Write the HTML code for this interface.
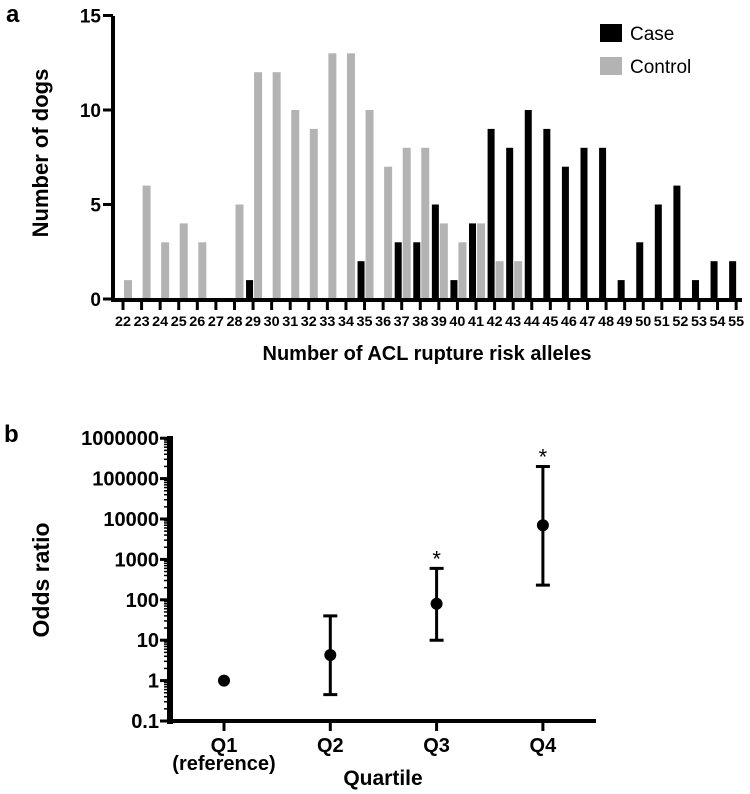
<!DOCTYPE html>
<html><head><meta charset="utf-8"><style>
html,body{margin:0;padding:0;background:#fff;width:750px;height:794px;overflow:hidden}
svg{display:block;font-family:"Liberation Sans",Arial,sans-serif;font-weight:bold}
</style></head><body>
<svg id="c" width="750" height="794"></svg>
<script>
const categories=[22,23,24,25,26,27,28,29,30,31,32,33,34,35,36,37,38,39,40,41,42,43,44,45,46,47,48,49,50,51,52,53,54,55];
const caseCounts=[0,0,0,0,0,0,0,1,0,0,0,0,0,2,0,3,3,5,1,4,9,8,10,9,7,8,8,1,3,5,6,1,2,2];
const controlCounts=[1,6,3,4,3,0,5,12,12,10,9,13,13,10,7,8,8,4,3,4,2,2,0,0,0,0,0,0,0,0,0,0,0,0];
const yTicks=[0,5,10,15];
const quartiles=["Q1","Q2","Q3","Q4"];
const orValues=[1,4.3,80,7000];
const orLow=[null,0.45,10,230];
const orHigh=[null,40,600,200000];
const sig=[false,false,true,true];
const logTicks=[0.1,1,10,100,1000,10000,100000,1000000];
const logLabels=["0.1","1","10","100","1000","10000","100000","1000000"];

const S=document.getElementById('c');const NS='http://www.w3.org/2000/svg';
function mk(t,a,txt){const e=document.createElementNS(NS,t);for(const k in a)e.setAttribute(k,a[k]);if(txt!==undefined)e.textContent=txt;S.appendChild(e);return e;}
const xA=i=>123+i*18.58, yA=v=>299-v*18.9;
let e;
e=mk('text',{x:6,y:22,'font-size':24},'a');
categories.forEach((c,i)=>{
 if(caseCounts[i]>0){e=mk('rect',{x:xA(i)-7,y:yA(caseCounts[i]),width:7,height:yA(0)-yA(caseCounts[i]),fill:'#000'});
 }
 if(controlCounts[i]>0){e=mk('rect',{x:xA(i)+1,y:yA(controlCounts[i]),width:8,height:yA(0)-yA(controlCounts[i]),fill:'#b3b3b3'});
 }
 e=mk('line',{x1:xA(i),x2:xA(i),y1:299,y2:310,stroke:'#000','stroke-width':3});
 e=mk('text',{x:xA(i),y:326,'font-size':14,'text-anchor':'middle',textLength:16,lengthAdjust:'spacingAndGlyphs'},c);
});
e=mk('line',{x1:113,x2:742,y1:300,y2:300,stroke:'#000','stroke-width':4});
e=mk('line',{x1:113,x2:113,y1:16,y2:302,stroke:'#000','stroke-width':4});
yTicks.forEach(v=>{e=mk('line',{x1:103,x2:113,y1:yA(v),y2:yA(v),stroke:'#000','stroke-width':3});
 e=mk('text',{x:101,y:yA(v)+7,'font-size':19,'text-anchor':'end'},v);});
e=mk('text',{x:427,y:360,'font-size':20,'text-anchor':'middle'},'Number of ACL rupture risk alleles');
e=mk('text',{x:0,y:0,'font-size':22,'text-anchor':'middle',transform:'translate(48,153) rotate(-90)'},'Number of dogs');
e=mk('rect',{x:600,y:24,width:22,height:18,fill:'#000'});
e=mk('text',{x:630,y:40,'font-size':19,'font-weight':'normal'},'Case');
e=mk('rect',{x:600,y:57,width:22,height:18,fill:'#b3b3b3'});
e=mk('text',{x:630,y:73,'font-size':19,'font-weight':'normal'},'Control');
const xB=i=>224+i*106.3, yB=v=>721-(Math.log10(v)+1)*40.4;
e=mk('text',{x:4,y:442,'font-size':24},'b');
e=mk('line',{x1:170,x2:170,y1:436,y2:724,stroke:'#000','stroke-width':6});
e=mk('line',{x1:167,x2:596,y1:721,y2:721,stroke:'#000','stroke-width':4});
logTicks.forEach((v,i)=>{
 e=mk('line',{x1:160,x2:170,y1:yB(v),y2:yB(v),stroke:'#000','stroke-width':3});
 e=mk('text',{x:159,y:yB(v)+7,'font-size':20,'text-anchor':'end'},logLabels[i]);
 if(i<logTicks.length-1)for(let m=2;m<10;m++){const y=yB(v*m);mk('line',{x1:164,x2:170,y1:y,y2:y,stroke:'#000','stroke-width':1.5});}
});
quartiles.forEach((q,i)=>{
 const x=xB(i);
 e=mk('line',{x1:x,x2:x,y1:721,y2:731,stroke:'#000','stroke-width':3});
 e=mk('text',{x:x,y:752,'font-size':20,'text-anchor':'middle'},q);
 if(orLow[i]!==null){
  e=mk('path',{d:`M${x},${yB(orLow[i])}V${yB(orHigh[i])}M${x-7},${yB(orLow[i])}H${x+7}M${x-7},${yB(orHigh[i])}H${x+7}`,stroke:'#000','stroke-width':3,fill:'none'});
  }
 e=mk('circle',{cx:x,cy:yB(orValues[i]),r:6,fill:'#000'});
 if(sig[i]){e=mk('text',{x:x,y:yB(orHigh[i])-2,'font-size':22,'font-weight':'normal','text-anchor':'middle'},'*');}
});
e=mk('text',{x:224,y:770,'font-size':20,'text-anchor':'middle'},'(reference)');
e=mk('text',{x:383,y:785,'font-size':21,'text-anchor':'middle'},'Quartile');
e=mk('text',{x:0,y:0,'font-size':23,'text-anchor':'middle',transform:'translate(49,580) rotate(-90)'},'Odds ratio');
</script>
</body></html>
